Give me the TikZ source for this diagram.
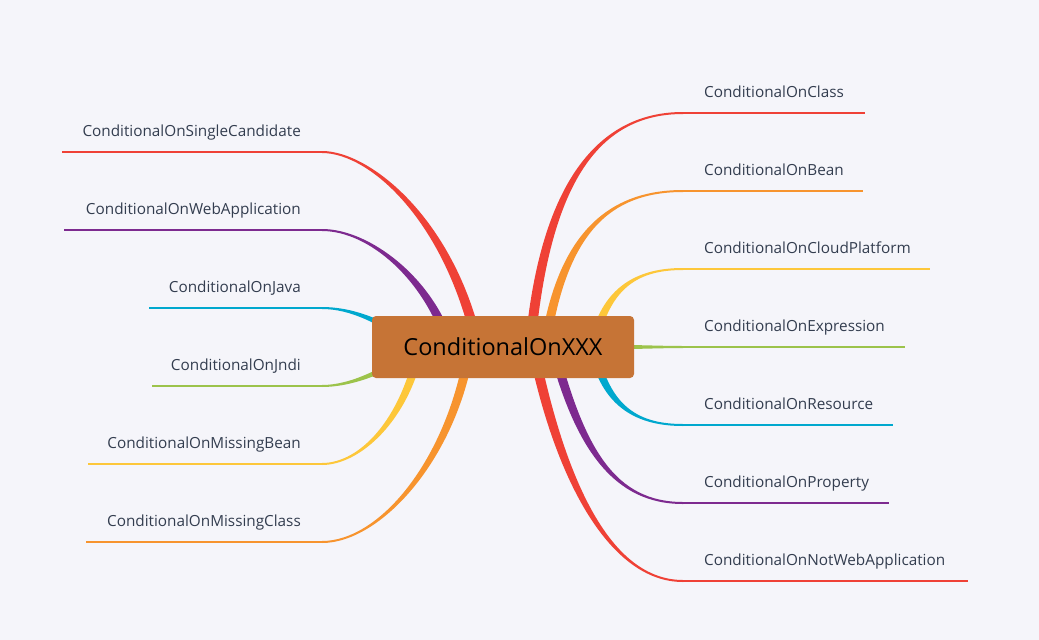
\documentclass[tikz,border=0pt]{standalone}
\usepackage{fontspec}
\setmainfont{Open Sans}
\usetikzlibrary{calc}
\definecolor{bg}{HTML}{F5F5FA}
\definecolor{cred}{HTML}{EF4136}
\definecolor{corange}{HTML}{F7942E}
\definecolor{cyellow}{HTML}{FDC73A}
\definecolor{cgreen}{HTML}{9CC34B}
\definecolor{ccyan}{HTML}{00A8CE}
\definecolor{cpurple}{HTML}{7D2A8F}
\definecolor{rootfill}{HTML}{C67436}
\definecolor{txt}{HTML}{333D4F}
\pgfdeclarelayer{bglayer}
\pgfsetlayers{bglayer,main}
% tapered branch: colour, P0, P1, P2, P3, half start width, half end width
\newcommand{\tbranch}[7]{%
  \fill[#1] ($#2!#6!90:#3$) .. controls ($#3!#6!-90:#2$) and ($#4!#7!90:#5$) .. ($#5!#7!-90:#4$)
    -- ($#5!#7!90:#4$) .. controls ($#4!#7!-90:#5$) and ($#3!#6!90:#2$) .. ($#2!#6!-90:#3$) -- cycle;}
\begin{document}
\begin{tikzpicture}[x=1pt,y=-1pt,
  lbl/.style={font=\fontsize{15.3}{18}\selectfont, text=txt, inner sep=0pt},
  rootbox/.style={rounded corners=4pt, fill=rootfill, minimum width=262pt, minimum height=62pt,
    font=\fontsize{23.5}{28}\selectfont, text=black, inner sep=0pt},
  leaf/.style={line width=2pt}]
\useasboundingbox (0,0) rectangle (1039,640);
\node[rootbox] (root) at (503,347) {ConditionalOnXXX};

% start points (hidden behind the root)
\coordinate (r1) at ($(root.center)+(27,0)$);
\coordinate (r2) at ($(root.center)+(42,0)$);
\coordinate (r3) at ($(root.center)+(90,0)$);
\coordinate (r4) at ($(root.center)+(97,0)$);
\coordinate (r5) at ($(root.center)+(90,0)$);
\coordinate (r6) at ($(root.center)+(50,0)$);
\coordinate (r7) at ($(root.center)+(30,0)$);
\coordinate (l1) at ($(root.center)+(-25,0)$);
\coordinate (l2) at ($(root.center)+(-53,0)$);
\coordinate (l3) at ($(root.center)+(-83,0)$);
\coordinate (l4) at ($(root.center)+(-83,0)$);
\coordinate (l5) at ($(root.center)+(-83,0)$);
\coordinate (l6) at ($(root.center)+(-33,0)$);

% joints and line ends
\coordinate (jr1) at (683,113); \coordinate (er1) at (865,113);
\coordinate (jr2) at (683,191); \coordinate (er2) at (863,191);
\coordinate (jr3) at (683,269); \coordinate (er3) at (930,269);
\coordinate (jr4) at (683,347); \coordinate (er4) at (905,347);
\coordinate (jr5) at (683,425); \coordinate (er5) at (893,425);
\coordinate (jr6) at (683,503); \coordinate (er6) at (889,503);
\coordinate (jr7) at (683,581); \coordinate (er7) at (968,581);
\coordinate (jl1) at (322,152); \coordinate (el1) at (62,152);
\coordinate (jl2) at (322,230); \coordinate (el2) at (64,230);
\coordinate (jl3) at (322,308); \coordinate (el3) at (149,308);
\coordinate (jl4) at (322,386); \coordinate (el4) at (152,386);
\coordinate (jl5) at (322,464); \coordinate (el5) at (88,464);
\coordinate (jl6) at (322,542); \coordinate (el6) at (86,542);

\begin{pgfonlayer}{bglayer}
\fill[bg] (0,0) rectangle (1039,640);
% right side
\tbranch{cred}{(r1)}{(545,180)}{(600,113)}{(jr1)}{5pt}{1pt}
\tbranch{corange}{(r2)}{(562,232)}{(610,191)}{(jr2)}{4.6pt}{1pt}
\tbranch{cyellow}{(r3)}{(605,285)}{(640,269)}{(jr3)}{4.2pt}{1pt}
\tbranch{cgreen}{(r4)}{(630,347)}{(660,347)}{(jr4)}{2.4pt}{1pt}
\tbranch{ccyan}{(r5)}{(605,409)}{(640,425)}{(jr5)}{4.2pt}{1pt}
\tbranch{cpurple}{(r6)}{(580,450)}{(615,503)}{(jr6)}{4.6pt}{1pt}
\tbranch{cred}{(r7)}{(560,480)}{(610,581)}{(jr7)}{5pt}{1pt}
% left side
\tbranch{cred}{(l1)}{(450,220)}{(370,152)}{(jl1)}{5pt}{1pt}
\tbranch{cpurple}{(l2)}{(430,280)}{(370,230)}{(jl2)}{4.6pt}{1pt}
\tbranch{ccyan}{(l3)}{(380,320)}{(350,308)}{(jl3)}{3.4pt}{1pt}
\tbranch{cgreen}{(l4)}{(385,372)}{(350,386)}{(jl4)}{3.4pt}{1pt}
\tbranch{cyellow}{(l5)}{(405,420)}{(360,464)}{(jl5)}{4.2pt}{1pt}
\tbranch{corange}{(l6)}{(452,460)}{(380,542)}{(jl6)}{4.6pt}{1pt}
\end{pgfonlayer}

\draw[leaf, cred] (jr1) -- (er1);
\draw[leaf, corange] (jr2) -- (er2);
\draw[leaf, cyellow] (jr3) -- (er3);
\draw[leaf, cgreen] (jr4) -- (er4);
\draw[leaf, ccyan] (jr5) -- (er5);
\draw[leaf, cpurple] (jr6) -- (er6);
\draw[leaf, cred] (jr7) -- (er7);
\draw[leaf, cred] (jl1) -- (el1);
\draw[leaf, cpurple] (jl2) -- (el2);
\draw[leaf, ccyan] (jl3) -- (el3);
\draw[leaf, cgreen] (jl4) -- (el4);
\draw[leaf, cyellow] (jl5) -- (el5);
\draw[leaf, corange] (jl6) -- (el6);

\node[lbl, anchor=base west] (tr1) at (704,97.5) {ConditionalOnClass};
\node[lbl, anchor=base west] (tr2) at (704,175.5) {ConditionalOnBean};
\node[lbl, anchor=base west] (tr3) at (704,253.5) {ConditionalOnCloudPlatform};
\node[lbl, anchor=base west] (tr4) at (704,331.5) {ConditionalOnExpression};
\node[lbl, anchor=base west] (tr5) at (704,409.5) {ConditionalOnResource};
\node[lbl, anchor=base west] (tr6) at (704,487.5) {ConditionalOnProperty};
\node[lbl, anchor=base west] (tr7) at (704,565.5) {ConditionalOnNotWebApplication};
\node[lbl, anchor=base east] (tl1) at (301,136.5) {ConditionalOnSingleCandidate};
\node[lbl, anchor=base east] (tl2) at (301,214.5) {ConditionalOnWebApplication};
\node[lbl, anchor=base east] (tl3) at (301,292.5) {ConditionalOnJava};
\node[lbl, anchor=base east] (tl4) at (301,370.5) {ConditionalOnJndi};
\node[lbl, anchor=base east] (tl5) at (301,448.5) {ConditionalOnMissingBean};
\node[lbl, anchor=base east] (tl6) at (301,526.5) {ConditionalOnMissingClass};
\end{tikzpicture}
\end{document}
